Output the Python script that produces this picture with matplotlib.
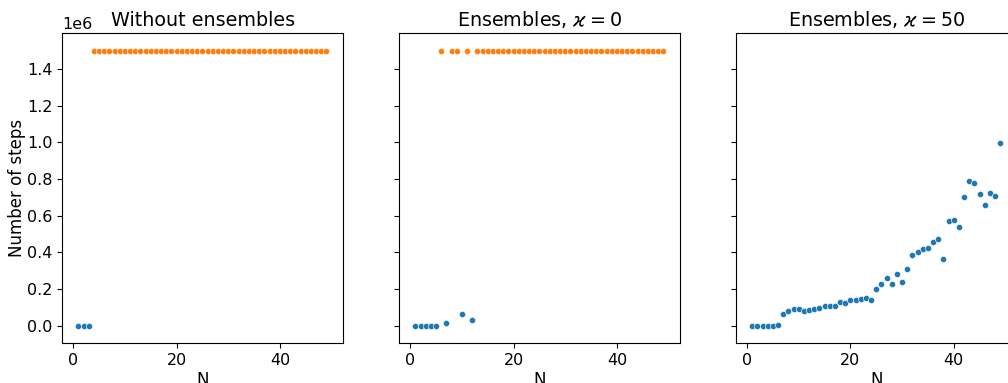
import matplotlib
matplotlib.use("Agg")
import matplotlib.pyplot as plt
import numpy as np

N = list(range(1, 50))
MAX_STEPS = 1.5e6

steps_without = [0, 0, 0,
                 1.5e6, 1.5e6, 1.5e6, 1.5e6, 1.5e6, 1.5e6, 1.5e6, 1.5e6, 1.5e6, 1.5e6,
                 1.5e6, 1.5e6, 1.5e6, 1.5e6, 1.5e6, 1.5e6, 1.5e6, 1.5e6, 1.5e6, 1.5e6,
                 1.5e6, 1.5e6, 1.5e6, 1.5e6, 1.5e6, 1.5e6, 1.5e6, 1.5e6, 1.5e6, 1.5e6,
                 1.5e6, 1.5e6, 1.5e6, 1.5e6, 1.5e6, 1.5e6, 1.5e6, 1.5e6, 1.5e6, 1.5e6,
                 1.5e6, 1.5e6, 1.5e6, 1.5e6, 1.5e6, 1.5e6]

steps_kappa0 = [0, 0, 0, 0, 0, 1.5e6, 12500, 1.5e6, 1.5e6, 63000, 1.5e6, 29000,
                1.5e6, 1.5e6, 1.5e6, 1.5e6, 1.5e6, 1.5e6, 1.5e6, 1.5e6, 1.5e6, 1.5e6,
                1.5e6, 1.5e6, 1.5e6, 1.5e6, 1.5e6, 1.5e6, 1.5e6, 1.5e6, 1.5e6, 1.5e6,
                1.5e6, 1.5e6, 1.5e6, 1.5e6, 1.5e6, 1.5e6, 1.5e6, 1.5e6, 1.5e6, 1.5e6,
                1.5e6, 1.5e6, 1.5e6, 1.5e6, 1.5e6, 1.5e6, 1.5e6]

steps_kappa50 = [0, 0, 0, 0, 0, 3000, 63600, 81700, 90800, 90800, 78000, 87000,
                 92600, 96000, 105000, 109000, 109000, 129000, 122000, 138000, 142000,
                 147000, 149000, 142000, 200000, 229000, 258000, 227000, 281000, 240000,
                 309000, 387000, 400000, 419000, 425000, 456000, 474000, 365000, 570000,
                 577000, 536000, 703000, 790000, 779000, 717000, 656000, 725000, 705000,
                 999000]

titles = ["Without ensembles", r"Ensembles, $\varkappa = 0$", r"Ensembles, $\varkappa = 50$"]
series = [steps_without, steps_kappa0, steps_kappa50]

C_OK = "#1f77b4"
C_MAX = "#ff7f0e"

fig = plt.figure(figsize=(10.08, 3.83), dpi=100)
bottom = 0.1036
height = 0.8095
width = 0.2788
lefts = [0.0618, 0.3961, 0.7302]

axes = []
for i, (left, title, ys) in enumerate(zip(lefts, titles, series)):
    ax = fig.add_axes([left, bottom, width, height], sharey=axes[0] if axes else None)
    ys = np.asarray(ys, dtype=float)
    xs = np.asarray(N, dtype=float)
    hit = ys >= MAX_STEPS
    ax.scatter(xs[~hit], ys[~hit], s=20, color=C_OK, edgecolor="white", linewidth=0.4, zorder=3)
    ax.scatter(xs[hit], ys[hit], s=20, color=C_MAX, edgecolor="white", linewidth=0.4, zorder=3)
    ax.set_title(title, fontsize=13.8, pad=5)
    ax.set_xlabel("N", fontsize=12, labelpad=2)
    ax.set_xlim(-2.13, 52.27)
    ax.set_xticks([0, 20, 40])
    ax.tick_params(labelsize=11.5)
    if i == 0:
        ax.set_ylabel("Number of steps", fontsize=12, labelpad=1)
    else:
        ax.tick_params(labelleft=False)
    axes.append(ax)

axes[0].set_ylim(-0.096e6, 1.595e6)
axes[0].set_yticks([0, 0.2e6, 0.4e6, 0.6e6, 0.8e6, 1.0e6, 1.2e6, 1.4e6])
axes[0].yaxis.get_offset_text().set_fontsize(11.5)

fig.savefig("out.png", dpi=100)
